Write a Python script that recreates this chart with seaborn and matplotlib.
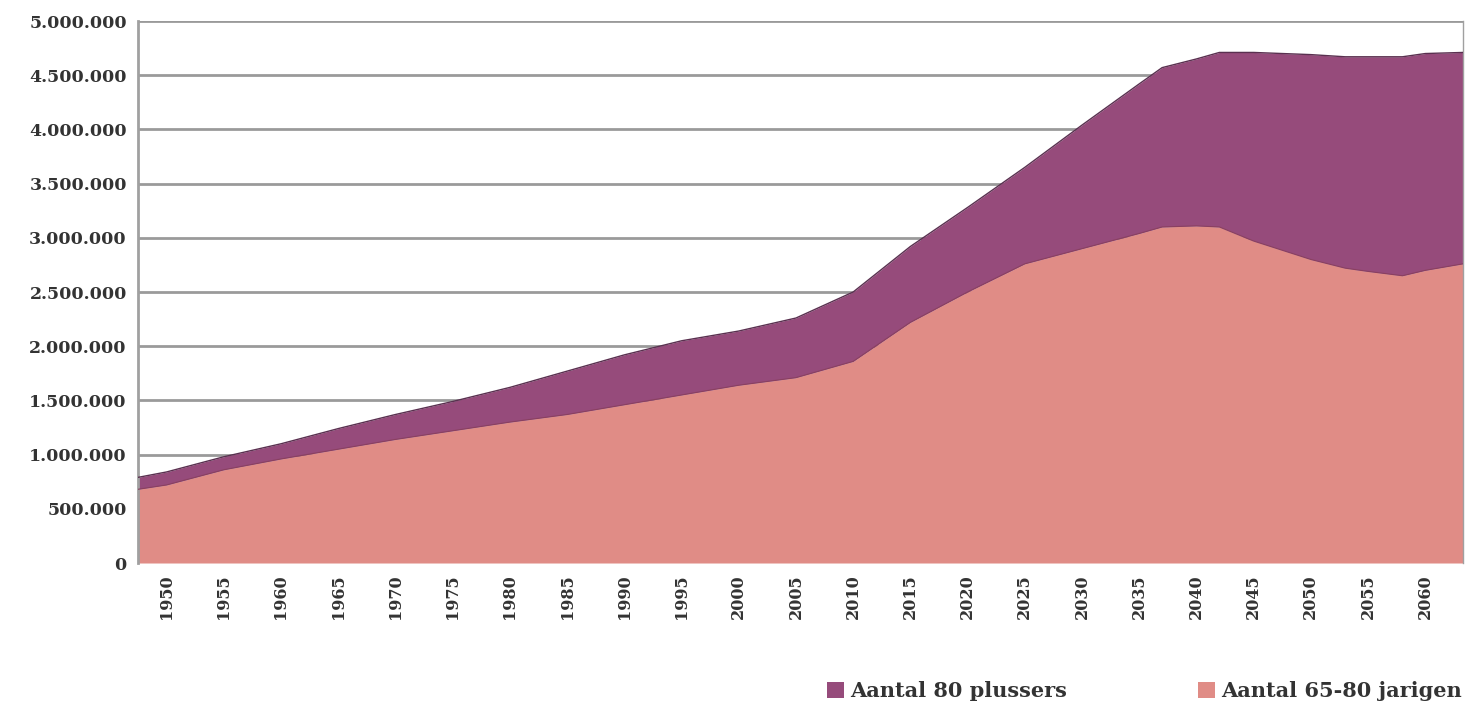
import numpy as np
import pandas as pd
import seaborn as sns
import matplotlib.pyplot as plt
from matplotlib.patches import Patch
from matplotlib.ticker import FuncFormatter

# --- DATA ---
YEARS = [1947.5, 1950, 1955, 1960, 1965, 1970, 1975, 1980, 1985, 1990, 1995, 2000, 2005,
         2010, 2015, 2020, 2025, 2030, 2035, 2037, 2040, 2042, 2045, 2050, 2053, 2055,
         2058, 2060, 2063.3]
AGE_65_80 = [0.68, 0.72, 0.86, 0.96, 1.05, 1.14, 1.22, 1.30, 1.37, 1.46, 1.55, 1.64, 1.71,
             1.86, 2.22, 2.50, 2.76, 2.90, 3.04, 3.10, 3.11, 3.10, 2.97, 2.80, 2.72, 2.69,
             2.65, 2.70, 2.76]
AGE_80_PLUS = [0.11, 0.12, 0.12, 0.14, 0.19, 0.23, 0.27, 0.32, 0.40, 0.46, 0.50, 0.50, 0.55,
               0.64, 0.70, 0.78, 0.89, 1.14, 1.38, 1.47, 1.54, 1.61, 1.74, 1.89, 1.95, 1.98,
               2.02, 2.00, 1.95]
TICK_YEARS = list(range(1950, 2061, 5))
Y_TICKS = list(range(0, 5000001, 500000))
LEGEND_LABELS = ["Aantal 80 plussers", "Aantal 65-80 jarigen"]

C_6580 = "#E08C86"
C_80P = "#964B7B"
TXT = "#333333"

df = pd.DataFrame({"Jaar": YEARS,
                   "a6580": np.array(AGE_65_80) * 1e6,
                   "a80": np.array(AGE_80_PLUS) * 1e6})
df["totaal"] = df["a6580"] + df["a80"]

sns.set_theme(style="whitegrid")
plt.rcParams['font.family'] = ['DejaVu Serif']

fig = plt.figure(figsize=(14.66, 7.05), dpi=100)
ax = fig.add_axes([0.0941, 0.2014, 0.9039, 0.7688])

ax.fill_between(df["Jaar"], 0, df["a6580"], color=C_6580, linewidth=0, zorder=2)
ax.fill_between(df["Jaar"], df["a6580"], df["totaal"], color=C_80P, linewidth=0, zorder=2)
sns.lineplot(data=df, x="Jaar", y="totaal", ax=ax, color="#5a3050", linewidth=1.0, zorder=3)
sns.lineplot(data=df, x="Jaar", y="a6580", ax=ax, color="#8a4060", linewidth=0.8, zorder=3)

ax.set_xlim(YEARS[0], YEARS[-1])
ax.set_ylim(0, 5000000)
ax.set_xticks(TICK_YEARS)
ax.set_xticklabels([str(y) for y in TICK_YEARS], rotation=90, fontsize=11.5,
                   fontweight='bold', color=TXT)
ax.set_yticks(Y_TICKS)
ax.yaxis.set_major_formatter(FuncFormatter(lambda v, p: f"{int(v):,}".replace(",", ".")))
for lab in ax.get_yticklabels():
    lab.set_fontsize(12.5)
    lab.set_fontweight('bold')
    lab.set_color(TXT)
ax.tick_params(axis='x', pad=8, length=0)
ax.tick_params(axis='y', pad=8, length=0)
ax.set_xlabel("")
ax.set_ylabel("")

ax.grid(axis='y', color="#9a9a9a", linewidth=2.0, zorder=1)
ax.grid(axis='x', visible=False)
for side, sp in ax.spines.items():
    sp.set_visible(side in ("left", "right"))
    sp.set_color("#a0a0a0")
    sp.set_linewidth(2.0 if side == "left" else 1.0)

handles = [Patch(facecolor=C_80P, edgecolor="none"), Patch(facecolor=C_6580, edgecolor="none")]
fig.legend(handles, LEGEND_LABELS, loc="center right", bbox_to_anchor=(1.01, 0.02),
           ncol=2, frameon=False, prop={'size': 15, 'weight': 'bold'},
           handlelength=0.8, handleheight=0.8, handletextpad=0.3, columnspacing=6.3,
           labelcolor=TXT)

fig.savefig("out.png", dpi=100)
plt.close(fig)
